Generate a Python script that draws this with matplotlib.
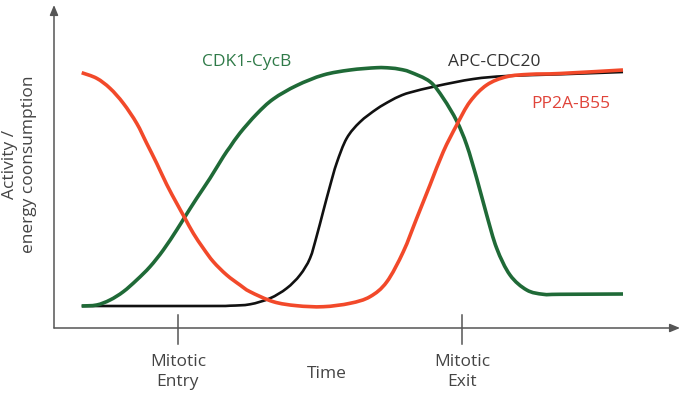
import matplotlib
matplotlib.use("Agg")
import matplotlib.pyplot as plt
from matplotlib.path import Path
from matplotlib.patches import PathPatch

plt.rcParams["font.family"] = ["Open Sans", "DejaVu Sans"]

# Schematic curves, time / activity in arbitrary units
red_t = [27.7, 42.7, 56, 69.3, 82.7, 92.7, 102.7, 112.7, 122.7, 131, 139.3, 149.3, 159.3, 172.7,
         186, 196, 219.3, 242.7, 269.3, 296, 316, 332.7, 349.3, 362.7, 376, 389.3, 402.7,
         416, 432.7, 452.7, 476, 506, 569]
red_a = [255.3, 249.7, 239.7, 224.7, 204.7, 184.7, 164.7, 143.5, 124.7, 109.7, 94.7, 79.7, 66.3,
         53, 43, 36.3, 26.3, 22.3, 21.3, 24.7, 31.3, 46, 76.3, 109.7, 143, 176.3, 203,
         226.3, 243, 251.3, 253.7, 254.5, 258]

green_t = [27.7, 42.7, 56, 69.3, 82.7, 96, 109.3, 122.7, 131, 142.7, 156, 169.3, 176, 186, 202.7,
           219.3, 242.7, 269.3, 296, 322.7, 336, 346, 356, 376, 389.3, 402.7, 412.7, 422.7,
           432.7, 442.7, 456, 472.7, 489.3, 506, 569]
green_a = [22, 23, 28, 36.3, 48, 61.3, 78, 98, 111.3, 129.7, 149.7, 171.3, 181, 195, 214,
           229, 242.5, 253, 258, 260.3, 260, 258.7, 256, 246.3, 229.7, 207, 183, 149.7,
           113, 79.7, 53, 38, 33.7, 33.7, 34]

black_t = [27.7, 150, 176, 196, 216, 232.7, 246, 256, 262.7, 269.3, 276, 282.7, 292.7, 306,
           322.7, 336, 346, 356, 382.7, 419.3, 452.7, 506, 569]
black_a = [22, 22, 22.3, 23.7, 29.7, 39.7, 53, 69.7, 92, 117, 142, 165, 189.7, 206,
           219, 227, 232, 235.5, 242, 249, 252, 253.7, 256]

labels = ["CDK1-CycB", "APC-CDC20", "PP2A-B55"]
events = ["Mitotic\nEntry", "Mitotic\nExit"]
event_t = [124, 408]

RED = "#f2492a"
GREEN = "#1f6a37"
BLACK = "#111111"
AXIS = "#555555"
TXT = "#444444"


def smooth_path(xs, ys):
    # Catmull-Rom style bezier through the points (rendering only)
    pts = list(zip(xs, ys))
    verts = [pts[0]]
    codes = [Path.MOVETO]
    n = len(pts)
    for i in range(n - 1):
        p0 = pts[max(i - 1, 0)]
        p1 = pts[i]
        p2 = pts[i + 1]
        p3 = pts[min(i + 2, n - 1)]
        c1 = (p1[0] + (p2[0] - p0[0]) / 6, p1[1] + (p2[1] - p0[1]) / 6)
        c2 = (p2[0] - (p3[0] - p1[0]) / 6, p2[1] - (p3[1] - p1[1]) / 6)
        verts += [c1, c2, p2]
        codes += [Path.CURVE4] * 3
    return Path(verts, codes)


fig = plt.figure(figsize=(6.82, 3.96), dpi=100)
ax = fig.add_axes([54 / 682, (396 - 328) / 396, (680 - 54) / 682, (328 - 5) / 396])
ax.set_xlim(0, 626)
ax.set_ylim(0, 323)
ax.axis("off")

for xs, ys, col, lw, z in [(black_t, black_a, BLACK, 1.9, 3),
                           (green_t, green_a, GREEN, 2.6, 4),
                           (red_t, red_a, RED, 2.6, 5)]:
    ax.add_patch(PathPatch(smooth_path(xs, ys), facecolor="none", edgecolor=col, lw=lw,
                           capstyle="butt", joinstyle="round", zorder=z))

# axes with arrow heads
arrow = dict(arrowstyle="-|>,head_length=0.6,head_width=0.25", color=AXIS, lw=1.1, shrinkA=0, shrinkB=0)
ax.annotate("", xy=(0, 1), xytext=(0, 0), xycoords="axes fraction", arrowprops=arrow)
ax.annotate("", xy=(1, 0), xytext=(0, 0), xycoords="axes fraction", arrowprops=arrow)

for t, lab in zip(event_t, events):
    ax.plot([t, t], [13, -16], color=AXIS, lw=1.1, clip_on=False)
    ax.text(t, -26, lab, ha="center", va="top", fontsize=12.5, color=TXT, linespacing=1.3)
ax.text(273, -38, "Time", ha="center", va="top", fontsize=12.5, color=TXT)

fig.text(20 / 682, 1 - 164 / 396, "Activity /\nenergy coonsumption", rotation=90,
         ha="center", va="center", fontsize=12.5, color=TXT, linespacing=1.25)

ax.text(193, 266, labels[0], ha="center", va="center", fontsize=12.5, color="#2f7a48")
ax.text(440, 266, labels[1], ha="center", va="center", fontsize=12.5, color="#333333")
ax.text(517, 224, labels[2], ha="center", va="center", fontsize=12.5, color="#e0443a")

fig.savefig("out.png", dpi=100)
